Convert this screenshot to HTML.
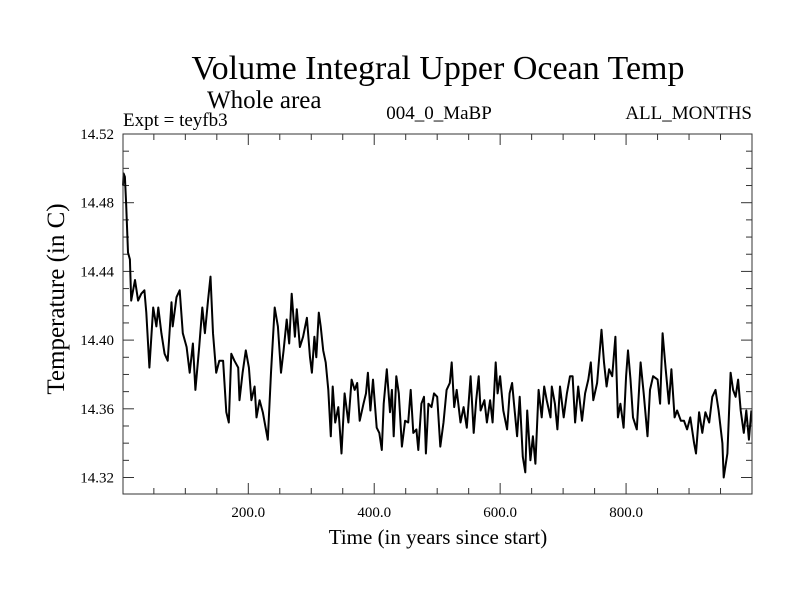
<!DOCTYPE html>
<html><head><meta charset="utf-8"><style>
body{margin:0;background:#fff}
svg{display:block;font-family:"Liberation Serif",serif}
</style></head><body>
<svg id="c" width="800" height="600">
<text x="438" y="79" font-size="34" text-anchor="middle">Volume Integral Upper Ocean Temp</text>
<text x="207" y="108" font-size="25">Whole area</text>
<text x="123" y="126" font-size="19">Expt = teyfb3</text>
<text x="439" y="119" font-size="19" text-anchor="middle">004_0_MaBP</text>
<text x="752" y="119" font-size="19" text-anchor="end">ALL_MONTHS</text>
<text transform="translate(64,299) rotate(-90)" font-size="25" text-anchor="middle">Temperature (in C)</text>
<text x="438" y="544" font-size="21" text-anchor="middle">Time (in years since start)</text>
<g id="axes"></g>
<path id="series" fill="none" stroke="#000" stroke-width="2" stroke-linejoin="round"></path>
<rect x="123" y="134" width="629" height="360" fill="none" stroke="#333" stroke-width="1"></rect>
</svg>
<script>
const years=[1,2,4,6,9,12,14,20,25,30,35,38,43,49,54,57,62,67,72,78,80,86,91,96,102,107,112,116,122,127,131,136,140,144,149,154,160,165,169,173,178,184,186,191,196,201,205,210,213,218,223,231,236,242,247,252,
256,261,265,269,274,277,282,287,293,298,301,305,308,312,315,319,323,327,331,334,338,343,348,353,359,364,369,373,377,383,387,390,394,398,404,408,412,415,420,425,428,431,435,439,444,449,454,458,462,467,470,475,479,482,486,491,495,
500,505,510,515,520,523,527,531,537,542,547,553,558,562,566,569,575,579,584,588,593,596,600,605,611,615,619,622,627,631,636,640,643,648,652,656,661,666,670,674,680,682,687,691,695,701,706,711,715,719,724,730,735,740,744,748,
754,761,765,769,773,778,783,787,791,796,800,803,807,811,817,823,828,834,838,843,850,854,858,863,868,872,877,881,887,892,897,902,908,911,916,921,926,932,937,942,947,953,955,961,966,970,974,978,982,987,991,995,999];
const temps=[14.49,14.497,14.495,14.480,14.451,14.447,14.423,14.435,14.423,14.427,14.429,14.416,14.384,14.419,14.408,14.419,14.404,14.392,14.388,14.422,14.408,14.425,14.429,14.404,14.396,14.381,14.398,14.371,14.396,14.419,14.404,14.423,14.437,14.404,14.381,14.388,14.388,14.358,14.352,14.392,14.388,14.384,14.365,14.381,14.394,14.384,14.365,14.373,14.355,14.365,14.358,14.342,14.381,14.419,14.408,14.381,
14.394,14.412,14.398,14.427,14.402,14.418,14.396,14.402,14.413,14.390,14.381,14.402,14.390,14.416,14.408,14.394,14.387,14.371,14.344,14.373,14.352,14.361,14.334,14.369,14.352,14.377,14.371,14.375,14.353,14.363,14.369,14.381,14.359,14.377,14.349,14.346,14.336,14.363,14.383,14.358,14.371,14.344,14.379,14.369,14.338,14.353,14.352,14.371,14.346,14.348,14.336,14.363,14.367,14.334,14.363,14.361,14.369,
14.367,14.338,14.352,14.371,14.375,14.387,14.361,14.371,14.352,14.361,14.349,14.379,14.346,14.365,14.379,14.359,14.365,14.352,14.365,14.352,14.387,14.369,14.379,14.359,14.348,14.369,14.375,14.363,14.344,14.367,14.332,14.323,14.359,14.330,14.344,14.328,14.371,14.355,14.373,14.365,14.355,14.373,14.363,14.348,14.373,14.355,14.369,14.379,14.379,14.352,14.373,14.353,14.369,14.377,14.387,14.365,
14.375,14.406,14.387,14.373,14.383,14.379,14.402,14.355,14.363,14.349,14.379,14.394,14.377,14.355,14.348,14.387,14.369,14.344,14.371,14.379,14.377,14.363,14.404,14.383,14.363,14.383,14.355,14.359,14.353,14.353,14.348,14.355,14.340,14.334,14.358,14.346,14.358,14.352,14.367,14.371,14.359,14.340,14.320,14.334,14.381,14.371,14.367,14.377,14.359,14.346,14.359,14.342,14.359];
const xTicks=[200,400,600,800];
const xTickLabels=["200.0","400.0","600.0","800.0"];
const yTicks=[14.32,14.36,14.40,14.44,14.48,14.52];
const yTickLabels=["14.32","14.36","14.40","14.44","14.48","14.52"];
const X0=123,X1=752,Y0=494,Y1=134,XMIN=1,XMAX=1000,YMIN=14.3104,YMAX=14.52;
const xs=v=>X0+(v-XMIN)/(XMAX-XMIN)*(X1-X0);
const ys=v=>Y0-(v-YMIN)/(YMAX-YMIN)*(Y0-Y1);
const NS="http://www.w3.org/2000/svg";
const ax=document.getElementById('axes');
function line(x1,y1,x2,y2,name){const l=document.createElementNS(NS,'line');
l.setAttribute('x1',x1);l.setAttribute('y1',y1);l.setAttribute('x2',x2);l.setAttribute('y2',y2);
l.setAttribute('stroke','#333');l.setAttribute('stroke-width','1');


ax.appendChild(l);}
function txt(x,y,s,anchor,name){const t=document.createElementNS(NS,'text');
t.setAttribute('x',x);t.setAttribute('y',y);t.setAttribute('font-size','15');t.setAttribute('text-anchor',anchor);t.textContent=s;


ax.appendChild(t);}
for(let v=50;v<1000;v+=50){const x=xs(v);const major=v%200===0;const len=major?11:6;
line(x,Y0,x,Y0-len,'x-tick');line(x,Y1,x,Y1+len,'x-tick-top');}
xTicks.forEach((v,i)=>txt(xs(v),517,xTickLabels[i],'middle','x-tick-label'));
for(let k=0;k<=20;k++){const v=14.32+k*0.01;if(v>YMAX+1e-9)break;const y=ys(v);const major=k%4===0;const len=major?11:6;
line(X0,y,X0+len,y,'y-tick');line(X1,y,X1-len,y,'y-tick-right');}
yTicks.forEach((v,i)=>txt(114,ys(v)+5,yTickLabels[i],'end','y-tick-label'));
let d='';years.forEach((yr,i)=>{d+=(i?'L':'M')+xs(yr).toFixed(1)+','+ys(temps[i]).toFixed(1);});
document.getElementById('series').setAttribute('d',d);
</script>
</body></html>
